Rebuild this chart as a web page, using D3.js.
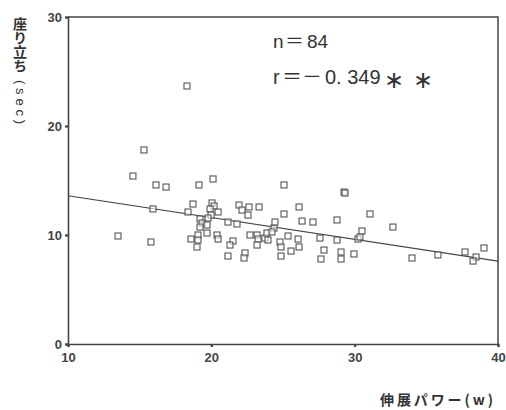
<!DOCTYPE html>
<html><head><meta charset="utf-8">
<script src="https://cdn.jsdelivr.net/npm/d3@7"></script>
<style>body{margin:0;background:#fff}svg{display:block}</style>
</head><body>
<svg id="c" width="506" height="410"></svg>
<script>
// extension power (W)
const powerX = [18.30,15.30,14.53,16.14,16.84,15.93,13.49,15.79,18.72,18.37,18.58,19.00,
  19.14,20.12,20.05,20.19,19.91,20.47,19.98,19.77,19.21,19.35,19.70,19.21,19.07,19.70,20.40,20.47,19.07,
  21.16,21.51,21.30,21.16,21.79,21.93,22.14,22.63,23.33,22.56,22.35,22.28,22.70,23.19,23.26,23.19,
  23.74,23.88,24.37,24.44,23.95,24.23,25.07,25.07,26.12,26.33,27.09,24.79,25.35,24.86,24.86,25.56,
  26.05,26.12,27.58,27.86,27.65,28.77,28.77,29.05,29.05,29.26,29.33,29.95,30.23,30.37,30.51,31.07,
  32.67,34.00,35.81,37.70,38.47,38.26,39.02];
// sit-to-stand time (sec)
const sitStandY = [23.67,17.80,15.41,14.59,14.40,12.39,9.91,9.36,12.84,12.11,9.63,8.90,
  14.59,15.14,12.94,12.66,12.39,12.11,11.83,11.56,11.47,11.10,10.92,10.73,10.00,10.18,10.00,9.63,9.54,
  11.19,9.45,9.08,8.07,11.01,12.75,12.29,12.57,12.57,11.83,8.35,7.89,10.00,10.00,9.63,9.08,
  9.72,10.18,10.64,11.19,9.54,10.28,14.59,11.93,12.57,11.28,11.19,9.36,9.91,8.90,8.07,8.53,
  9.63,8.90,9.72,8.62,7.80,11.38,9.54,8.44,7.80,13.94,13.85,8.26,9.63,9.82,10.37,11.93,
  10.73,7.89,8.17,8.44,7.98,7.61,8.81];
const xTicks = [10, 20, 30, 40];
const yTicks = [0, 10, 20, 30];
const fitIntercept = 15.6, fitSlope = -0.2;
const fitRange = [10, 40];
const annotN = ["n", "＝", "84"];
const annotR = ["r", "＝", "－", "0. 349", "∗", "∗"];

const svg = d3.select("#c");
const L = 68, R = 498, T = 17, B = 344;
const x = d3.scaleLinear().domain([10, 40]).range([L, R]);
const y = d3.scaleLinear().domain([0, 30]).range([B, T]);
const axisCol = "#444";

// frame top & right
svg.append("path").attr("d", `M${L},${T}H${R}V${B}`).attr("fill", "none")
  .attr("stroke", axisCol).attr("stroke-width", 1.5);

const gx = svg.append("g").attr("transform", `translate(0,${B})`)
  .call(d3.axisBottom(x).tickValues(xTicks).tickSize(3).tickPadding(6));
const gy = svg.append("g").attr("transform", `translate(${L},0)`)
  .call(d3.axisLeft(y).tickValues(yTicks).tickSize(3).tickPadding(3));
[gx, gy].forEach(g => {
  g.select(".domain").attr("stroke", axisCol).attr("stroke-width", 1.6);
  g.selectAll(".tick line").attr("stroke", axisCol).attr("stroke-width", 2.2);
  g.selectAll(".tick text").attr("fill", "#444").attr("font-family", "Liberation Sans, Arial, sans-serif")
    .attr("font-size", 13).attr("font-weight", "bold");
});

// regression line
svg.append("line")
  .attr("x1", x(fitRange[0])).attr("y1", y(fitIntercept + fitSlope * fitRange[0]))
  .attr("x2", x(fitRange[1])).attr("y2", y(fitIntercept + fitSlope * fitRange[1]))
  .attr("stroke", "#444").attr("stroke-width", 1.2);

// points
svg.append("g").selectAll("rect").data(d3.range(powerX.length)).join("rect")
  .attr("x", i => x(powerX[i]) - 3).attr("y", i => y(sitStandY[i]) - 3)
  .attr("width", 6).attr("height", 6)
  .attr("fill", "#fff").attr("fill-opacity", 0.6)
  .attr("stroke", "#555").attr("stroke-width", 1.1);

// annotation
const latin = "Liberation Sans, Arial, sans-serif", cjk = "Noto Sans CJK JP, sans-serif";
function annotLine(parts, yy, xs, size) {
  const t = svg.append("text").attr("y", yy).attr("fill", "#333");
  parts.forEach((p, i) => {
    const star = p === "∗";
    const isCjk = /[＝－]/.test(p);
    t.append("tspan").attr("x", xs[i]).attr("y", star ? yy + 4 : yy)
      .attr("font-family", star ? "DejaVu Sans" : (isCjk ? cjk : latin))
      .attr("font-size", star ? 24 : size)
      .attr("fill", "#333")
      .text(p);
  });
}
annotLine(annotN, 48, [273, 285, 307], 19);
annotLine(annotR, 84, [273, 282, 302, 325, 384, 413], 20);

// y label
svg.append("text").attr("x", 20).attr("y", 17)
  .style("writing-mode", "vertical-rl")
  .attr("font-family", cjk).attr("font-size", 14).attr("font-weight", "bold")
  .attr("fill", "#333").text("座り立ち");
svg.append("text").attr("transform", "translate(16,80) rotate(90)")
  .attr("font-family", latin).attr("font-size", 13)
  .attr("textLength", 44).attr("lengthAdjust", "spacing")
  .attr("fill", "#333").text("(sec)");

// x label
svg.append("text").attr("x", 380).attr("y", 405)
  .attr("font-family", cjk).attr("font-size", 14).attr("font-weight", "bold")
  .attr("textLength", 113).attr("lengthAdjust", "spacing")
  .attr("fill", "#333").text("伸展パワー(w)");
</script>
</body></html>
